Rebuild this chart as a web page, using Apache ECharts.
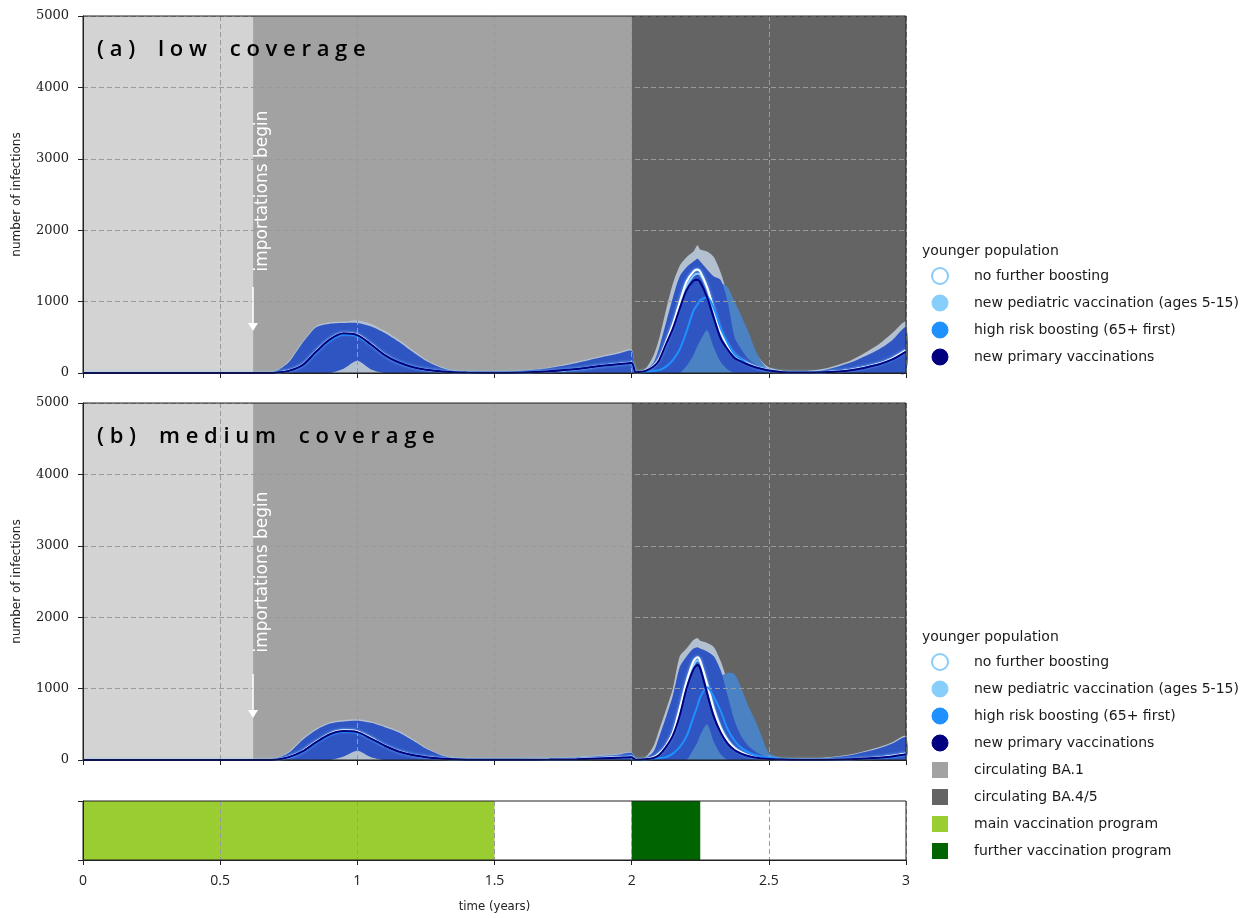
<!DOCTYPE html>
<html><head><meta charset="utf-8">
<script src="https://cdn.jsdelivr.net/npm/echarts@6/dist/echarts.min.js"></script>
<style>html,body{margin:0;padding:0;background:#fff}#c{width:1255px;height:918px}</style>
</head><body><div id="c"></div>
<script>
// ---------- data ----------
const T = [0,0.6,0.65,0.7,0.75,0.8,0.85,0.9,0.95,1.0,
  1.05,1.1,1.15,1.2,1.25,1.3,1.35,1.4,1.5,1.6,
  1.7,1.8,1.9,1.95,2.0,2.015,2.05,2.08,2.1,2.125,
  2.15,2.175,2.2,2.225,2.24,2.25,2.275,2.3,2.325,2.35,
  2.375,2.4,2.425,2.45,2.475,2.5,2.55,2.6,2.7,2.8,
  2.9,2.95,3.0];

// panel (a) low coverage — median lines
const navyA = [0,0,0,5,30,110,300,470,555,530,
  400,250,150,85,45,25,12,6,3,8,
  25,55,105,122,140,10,30,90,180,400,
  620,900,1160,1290,1305,1270,1060,760,480,330,
  210,160,115,80,55,35,12,6,10,40,
  120,190,300];
const whiteA = [0,0,0,5,32,115,305,475,560,535,
  405,255,152,86,46,26,12,6,3,8,
  26,57,108,126,145,10,32,100,200,430,
  680,990,1280,1420,1450,1420,1200,880,570,380,
  250,180,130,90,60,40,14,7,12,45,
  130,205,320];
const pedA = [0,0,0,5,31,112,302,472,557,532,
  402,252,151,85,45,25,12,6,3,8,
  25,56,106,124,142,10,30,90,185,400,
  640,940,1220,1360,1390,1380,1190,880,580,390,
  255,185,132,92,62,41,14,7,11,42,
  125,198,310];
const dodgerA = [0,0,0,4,28,105,290,455,540,520,
  395,248,150,85,45,25,12,6,3,8,
  25,55,104,122,138,10,15,30,40,90,
  180,330,580,870,960,1020,1060,900,620,420,
  260,190,120,80,55,35,12,6,10,40,
  118,188,295];
// panel (a) ranges
const outerUpA = [0,0,0,25,170,440,660,710,720,740,
  690,590,470,330,190,95,40,15,12,35,
  80,160,250,290,330,20,60,250,480,880,
  1250,1500,1620,1700,1790,1730,1700,1620,1400,1100,
  900,700,500,300,160,80,30,20,60,180,
  400,560,720];
const royalUpA = [0,0,0,20,150,420,640,690,700,700,
  650,560,440,300,170,80,30,10,10,30,
  70,140,230,270,310,20,40,150,350,700,
  1050,1350,1480,1560,1600,1560,1450,1350,1300,1000,
  500,330,200,130,80,50,20,15,40,150,
  330,460,640];
const royalLoA = [0,0,0,0,0,0,0,0,60,170,
  50,0,0,0,0,0,0,0,0,0,
  0,0,0,0,0,0,0,0,0,0,
  0,0,100,250,380,450,600,350,150,50,
  0,0,0,0,0,0,0,0,0,0,
  0,0,0];
const steelUpA = [0,0,0,0,0,0,0,0,0,0,
  0,0,0,0,0,0,0,0,0,0,
  0,0,0,0,0,0,0,0,0,60,
  200,420,700,950,1050,1100,1200,1250,1260,1200,
  1000,800,580,330,150,50,10,0,20,80,
  250,380,560];

// panel (b) medium coverage — median lines
const navyB = [0,0,0,3,40,120,250,360,405,390,
  300,200,120,70,40,20,10,5,2,3,
  6,12,25,32,40,5,10,30,70,180,
  340,620,1000,1270,1330,1280,930,600,380,230,
  140,90,55,35,22,15,6,3,4,10,
  30,50,80];
const whiteB = [0,0,0,3,42,125,258,370,415,400,
  308,205,123,72,41,21,10,5,2,4,
  8,15,30,38,46,5,12,40,90,200,
  380,720,1100,1380,1440,1390,1060,700,440,270,
  165,105,65,40,26,17,7,4,5,12,
  35,58,92];
const pedB = [0,0,0,3,41,122,254,365,410,395,
  304,203,122,71,40,20,10,5,2,4,
  7,14,28,35,43,5,11,35,80,190,
  360,680,1050,1320,1390,1370,1080,730,460,285,
  175,110,68,42,27,18,7,4,5,11,
  33,55,88];
const dodgerB = [0,0,0,3,38,115,240,350,395,382,
  295,197,118,69,39,20,10,5,2,3,
  6,12,24,31,38,5,8,15,25,40,
  90,180,330,600,760,880,1020,880,680,430,
  270,170,110,70,45,30,12,5,4,10,
  28,47,75];
// panel (b) ranges
const outerUpB = [0,0,0,20,120,300,440,530,560,570,
  540,480,410,300,175,85,30,10,5,10,
  20,40,70,85,110,10,40,200,420,700,
  1000,1450,1560,1680,1710,1670,1640,1580,1380,1100,
  800,600,400,250,140,70,25,15,30,80,
  180,250,340];
const royalUpB = [0,0,0,15,100,280,420,510,540,550,
  520,460,390,280,160,75,25,8,4,8,
  18,35,60,75,100,8,30,120,320,600,
  900,1300,1450,1560,1580,1560,1520,1450,1250,900,
  550,330,200,120,70,40,15,10,25,70,
  160,230,320];
const royalLoB = [0,0,0,0,0,0,0,0,50,130,
  40,0,0,0,0,0,0,0,0,0,
  0,0,0,0,0,0,0,0,0,0,
  0,0,0,150,250,350,500,250,80,0,
  0,0,0,0,0,0,0,0,0,0,
  0,0,0];
const steelUpB = [0,0,0,0,0,0,0,0,0,0,
  0,0,0,0,0,0,0,0,0,0,
  0,0,0,0,0,0,0,0,0,40,
  150,300,500,700,820,900,1000,1100,1180,1220,
  1200,1000,760,560,320,100,20,5,10,40,
  120,180,260];

// background periods
const variantStart = [0, 0.62, 2];
const variantEnd = [0.62, 2, 3];
const variantColor = ['#d3d3d3', '#a2a2a2', '#646464'];
const progStart = [0, 2];
const progEnd = [1.5, 2.25];
const progColor = ['#9acd32', '#006400'];
const xTickStep = 0.5;
const yTickStep = 1000;

// ---------- helpers ----------
const zeros = T.map(() => 0);
function pairs(arr){ return T.map((t,i)=>[t, arr[i]]); }
function band(up, lo, color, gi, z){
  return {type:'custom', xAxisIndex:gi, yAxisIndex:gi, z:z, silent:true,
    data:[[T[0],0]], encode:{x:0,y:1},
    renderItem:function(p, api){
      const pts=[];
      for(let i=0;i<T.length;i++) pts.push(api.coord([T[i], up[i]]));
      for(let i=T.length-1;i>=0;i--) pts.push(api.coord([T[i], lo[i]]));
      return {type:'polygon', shape:{points:pts, smooth:0.25}, style:{fill:color}};
    }};
}
function spans(starts, ends, colors, gi, ymax){
  return {type:'custom', xAxisIndex:gi, yAxisIndex:gi, z:1, silent:true,
    data: starts.map((s,i)=>[s, ends[i], i]), encode:{x:[0,1]},
    renderItem:function(p, api){
      const a = api.coord([api.value(0), ymax]);
      const b = api.coord([api.value(1), 0]);
      return {type:'rect', shape:{x:a[0], y:a[1], width:b[0]-a[0], height:b[1]-a[1]},
        style:{fill:colors[api.value(2)]}};
    }};
}
function line(arr, color, gi, z, extra){
  return Object.assign({type:'line', xAxisIndex:gi, yAxisIndex:gi, z:z, silent:true,
    data:pairs(arr), showSymbol:false, symbol:'none', smooth:0.3,
    lineStyle:{color:color, width:2}}, extra||{});
}
const gridLine = {show:true, lineStyle:{color:'#9a9a9a', type:[5,3], width:1}};
function xAx(gi, showLabel){
  return {type:'value', gridIndex:gi, min:0, max:3, interval:xTickStep, z:3,
    axisLine:{show:true, onZero:false, lineStyle:{color:'#222'}},
    axisTick:{show:true, length:5, lineStyle:{color:'#222'}},
    axisLabel:{show:showLabel, margin:14, color:'#222', fontSize:14,
      fontFamily:"'Open Sans','DejaVu Sans',sans-serif",
      formatter:v=>String(v)},
    splitLine:gridLine,
    name: showLabel ? 'time (years)' : '', nameLocation:'middle', nameGap:40,
    nameTextStyle:{color:'#222', fontSize:13, fontFamily:"'DejaVu Sans Condensed','DejaVu Sans',sans-serif"}};
}
function yAx(gi){
  return {type:'value', gridIndex:gi, min:0, max:5000, interval:yTickStep, z:3,
    axisLine:{show:true, lineStyle:{color:'#222'}},
    axisTick:{show:true, length:5, lineStyle:{color:'#222'}},
    axisLabel:{margin:14, color:'#222', fontSize:13, fontFamily:"'DejaVu Serif',serif", formatter:v=>String(v)},
    splitLine:gridLine,
    name:'number of infections', nameLocation:'middle', nameRotate:90, nameGap:60,
    nameTextStyle:{color:'#222', fontSize:12, fontFamily:"'DejaVu Sans',sans-serif"}};
}
function panelSeries(gi, o){
  return [
    spans(variantStart, variantEnd, variantColor, gi, 5000),
    band(o.outer, zeros, '#b3c0cf', gi, 2),
    band(o.steel, zeros, '#4a82c4', gi, 2),
    band(o.royalUp, o.royalLo, '#2f55c3', gi, 2),
    line(o.ped, '#87cefa', gi, 4),
    line(o.white, '#ffffff', gi, 4, {lineStyle:{color:'#ffffff', width:2, shadowColor:'#87cefa', shadowBlur:3}}),
    line(o.dodger, '#1e90ff', gi, 4),
    line(o.navy, '#000080', gi, 4)
  ];
}

// legend helpers (graphic)
const LF = "'DejaVu Sans',sans-serif";
function legendText(x, y, t){ return {type:'text', x:x, y:y, z:50, style:{text:t, fill:'#1a1a1a', font:'14px '+LF, textVerticalAlign:'middle'}}; }
function circ(x, y, fill, stroke){ return {type:'circle', z:50, shape:{cx:x, cy:y, r:8}, style:{fill:fill, stroke:stroke||fill, lineWidth:stroke?2:1}}; }
function sq(x, y, fill){ return {type:'rect', z:50, shape:{x:x-8, y:y-8, width:16, height:16}, style:{fill:fill}}; }
const circleItems = [['no further boosting','#ffffff','#87cefa'],['new pediatric vaccination (ages 5-15)','#87cefa'],['high risk boosting (65+ first)','#1e90ff'],['new primary vaccinations','#000080']];
const squareItems = [['circulating BA.1','#a2a2a2'],['circulating BA.4/5','#646464'],['main vaccination program','#9acd32'],['further vaccination program','#006400']];
function legend(y0, withSquares){
  const g=[legendText(922, y0, 'younger population')];
  let y=y0+25;
  circleItems.forEach(it=>{ g.push(circ(940, y, it[1], it[2])); g.push(legendText(974, y, it[0])); y+=27; });
  if(withSquares) squareItems.forEach(it=>{ g.push(sq(940, y, it[1])); g.push(legendText(974, y, it[0])); y+=27; });
  return g;
}
function spaced(s){ return s.split('').map(c=> c===' ' ? '  ' : c).join(' '); }
function panelTitle(y, t){ return {type:'text', x:97, y:y, z:50, style:{text:spaced(t), fill:'#000', font:"600 22px 'Open Sans',sans-serif", textVerticalAlign:'middle'}}; }
function importText(cy){ return {type:'text', x:263, y:cy, rotation:Math.PI/2, z:50, style:{text:'importations begin', fill:'#fff', font:"17px 'DejaVu Sans',sans-serif", textAlign:'center', textVerticalAlign:'middle'}}; }
function arrow(y1, y2){ return [
  {type:'line', z:50, shape:{x1:253, y1:y1, x2:253, y2:y2-6}, style:{stroke:'#fff', lineWidth:1.5}},
  {type:'polygon', z:50, shape:{points:[[248,y2-8],[258,y2-8],[253,y2]]}, style:{fill:'#fff'}}]; }
function frame(x,y,w,h){ return {type:'rect', z:60, shape:{x:x,y:y,width:w,height:h}, style:{fill:'none', stroke:'#222', lineWidth:1}}; }

const option = {
  animation:false,
  backgroundColor:'#fff',
  grid:[
    {left:83, top:16, width:823, height:357},
    {left:83, top:403, width:823, height:357},
    {left:83, top:801, width:823, height:59}
  ],
  xAxis:[xAx(0,false), xAx(1,false), xAx(2,true)],
  yAxis:[yAx(0), yAx(1),
    {type:'value', gridIndex:2, min:0, max:1, interval:1, z:3,
      axisLine:{show:true, lineStyle:{color:'#222'}}, axisTick:{show:true, length:5, lineStyle:{color:'#222'}},
      axisLabel:{show:false}, splitLine:{show:false}}],
  series:[
    ...panelSeries(0, {outer:outerUpA, steel:steelUpA, royalUp:royalUpA, royalLo:royalLoA, ped:pedA, white:whiteA, dodger:dodgerA, navy:navyA}),
    ...panelSeries(1, {outer:outerUpB, steel:steelUpB, royalUp:royalUpB, royalLo:royalLoB, ped:pedB, white:whiteB, dodger:dodgerB, navy:navyB}),
    spans(progStart, progEnd, progColor, 2, 1)
  ],
  graphic:[
    panelTitle(50, '(a) low coverage'),
    panelTitle(437, '(b) medium coverage'),
    importText(191), importText(572),
    ...arrow(287, 331), ...arrow(674, 718),
    ...legend(251, false),
    ...legend(637, true),
    frame(83,16,823,357), frame(83,403,823,357), frame(83,801,823,59)
  ]
};
const chart = echarts.init(document.getElementById('c'), null, {renderer:'canvas'});
chart.setOption(option);
</script></body></html>
